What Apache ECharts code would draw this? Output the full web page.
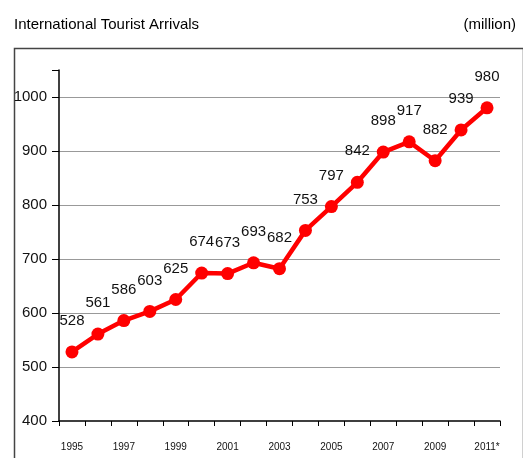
<!DOCTYPE html>
<html>
<head>
<meta charset="utf-8">
<script src="https://cdn.jsdelivr.net/npm/echarts@6/dist/echarts.min.js"></script>
<style>
  html, body { margin: 0; padding: 0; background: #fff; }
  #chart { width: 523px; height: 458px; }
</style>
</head>
<body>
<div id="chart"></div>
<script>
// years on the x axis
var years = ["1995", "1996", "1997", "1998", "1999", "2000", "2001", "2002", "2003",
  "2004", "2005", "2006", "2007", "2008", "2009", "2010", "2011*"];
// arrivals, million
var arrivals = [528, 561, 586, 603, 625, 674, 673, 693, 682, 753, 797, 842, 898, 917, 882, 939, 980];
var yTicks = [400, 500, 600, 700, 800, 900, 1000];

var font = "'Liberation Sans Narrow', 'Arial Narrow', 'Liberation Sans', Arial, sans-serif";

var chart = echarts.init(document.getElementById("chart"));

var option = {
  animation: false,
  textStyle: { fontFamily: font },
  title: [
    {
      text: "International Tourist Arrivals",
      left: 9,
      top: 12,
      textStyle: { fontFamily: font, fontSize: 15, fontWeight: "normal", color: "#000" },
    },
    {
      text: "(million)",
      right: 2,
      top: 12,
      textStyle: { fontFamily: font, fontSize: 15, fontWeight: "normal", color: "#000" },
    },
  ],
  // outer frame
  graphic: [
    {
      type: "rect",
      left: 12,
      top: 46,
      shape: { width: 509, height: 420 },
      style: { fill: "none", stroke: "#444", lineWidth: 1.5 },
      silent: true,
    },
  ],
  grid: { left: 59, right: 23, top: 70, bottom: 37 },
  xAxis: {
    type: "category",
    data: years,
    boundaryGap: true,
    axisLine: { lineStyle: { color: "#000", width: 1.5 } },
    axisTick: { show: true, length: 5, alignWithLabel: false, interval: 0, lineStyle: { color: "#000" } },
    axisLabel: {
      interval: 1,
      margin: 21,
      fontSize: 10,
      color: "#111",
      fontFamily: font,
    },
    splitLine: { show: false },
  },
  yAxis: {
    type: "value",
    min: 400,
    max: 1050,
    interval: 100,
    axisLine: { show: true, lineStyle: { color: "#000", width: 1.5 } },
    axisTick: { show: true, length: 7, lineStyle: { color: "#000" } },
    axisLabel: {
      margin: 12,
      fontSize: 15,
      color: "#111",
      fontFamily: font,
      formatter: function (v) {
        return yTicks.indexOf(v) >= 0 ? String(v) : "";
      },
    },
    splitLine: {
      show: true,
      lineStyle: {
        color: ["transparent", "#999", "#999", "#999", "#999", "#999", "#999", "transparent"],
        width: 1.2,
      },
    },
  },
  series: [
    {
      type: "line",
      data: arrivals,
      color: "#ff0000",
      lineStyle: { color: "#ff0000", width: 4.5 },
      symbol: "circle",
      symbolSize: 13,
      itemStyle: { color: "#ff0000" },
      label: {
        show: true,
        position: "top",
        distance: 17,
        fontSize: 15,
        color: "#111",
        fontFamily: font,
      },
    },
  ],
};

chart.setOption(option);
</script>
</body>
</html>
